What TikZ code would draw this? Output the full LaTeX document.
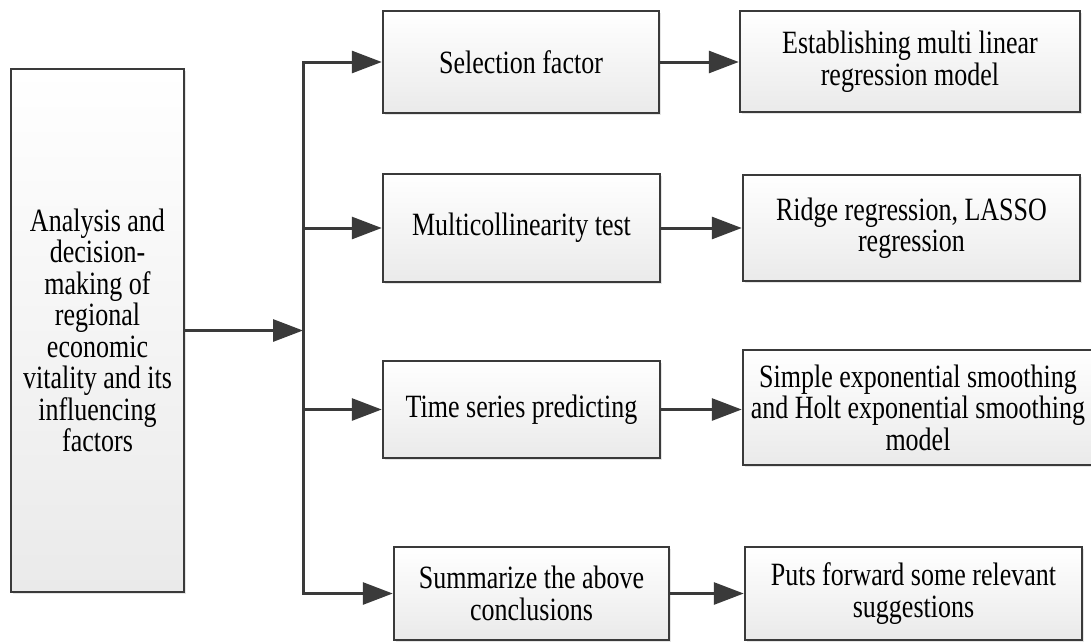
\documentclass[tikz,border=0pt]{standalone}
\usepackage{fontspec}
\setmainfont{Liberation Serif}[FakeStretch=0.8]
\usepackage{tikz}
\usetikzlibrary{arrows.meta, shadows}
\definecolor{lineclr}{RGB}{58,58,58}
\definecolor{boxlow}{RGB}{234,234,234}

\begin{document}
\begin{tikzpicture}[x=1pt, y=-1pt,
  stagebox/.style={draw=lineclr, line width=2.5pt, top color=white, bottom color=boxlow,
    align=center, inner sep=0pt, font=\fontsize{32.5}{31.5}\selectfont,
    drop shadow={opacity=0.2, shadow xshift=2pt, shadow yshift=-2pt}},
  link/.style={draw=lineclr, line width=3pt},
  flow/.style={link, -{Triangle[length=30pt, width=22pt]}}]
\useasboundingbox[fill=white] (0,0) rectangle (1091,642);

\node[stagebox, minimum width=173pt, minimum height=523pt] (goal) at (97.5,330.5)
  {Analysis and\\decision-\\making of\\regional\\economic\\vitality and its\\influencing\\factors};

\node[stagebox, minimum width=276pt, minimum height=102pt] (sel) at (521,62) {Selection factor};
\node[stagebox, minimum width=277pt, minimum height=108pt] (multi) at (521.5,228) {Multicollinearity test};
\node[stagebox, minimum width=277pt, minimum height=97pt] (series) at (521.5,409.5) {Time series predicting};
\node[stagebox, minimum width=275pt, minimum height=93pt] (sum) at (531.5,593.5) {Summarize the above\\conclusions};

\node[stagebox, minimum width=340pt, minimum height=101pt] (mlr) at (910,61.5) {Establishing multi linear\\regression model};
\node[stagebox, minimum width=337pt, minimum height=106pt] (ridge) at (911.5,228) {Ridge regression, LASSO\\regression};
\node[stagebox, minimum width=350pt, minimum height=115pt] (smooth) at (918,407.5) {Simple exponential smoothing\\and Holt exponential smoothing\\model};
\node[stagebox, minimum width=337pt, minimum height=93pt] (advice) at (913.5,593.5) {Puts forward some relevant\\suggestions};

\coordinate (bus) at (303,330.5);
\draw[flow] (goal.east) -- (bus);
\draw[link, line cap=rect] (bus |- sel.west) -- (bus |- sum.west);
\foreach \b in {sel, multi, series, sum}
  \draw[flow] (bus |- \b.west) -- (\b.west);

\draw[flow] (sel.east) -- (sel.east -| mlr.west);
\draw[flow] (multi.east) -- (multi.east -| ridge.west);
\draw[flow] (series.east) -- (series.east -| smooth.west);
\draw[flow] (sum.east) -- (sum.east -| advice.west);
\end{tikzpicture}
\end{document}
